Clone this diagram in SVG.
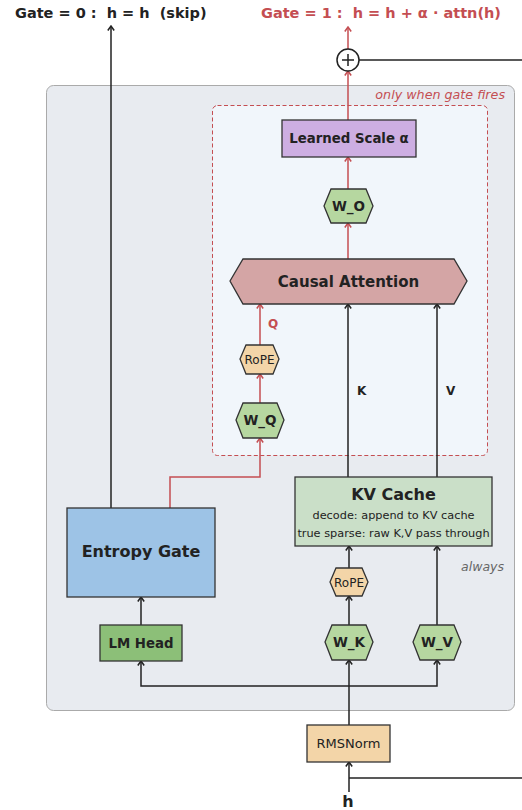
<svg xmlns="http://www.w3.org/2000/svg" width="522" height="810" viewBox="0 0 522 810">
<defs>
<style>
text{font-family:"DejaVu Sans","Noto Sans",sans-serif;fill:#222}
.b{font-weight:bold}
.red{fill:#c44e52}
.node{stroke:#333;stroke-width:1.3}
.ln{fill:none;stroke:#222;stroke-width:1.5}
.rl{fill:none;stroke:#c44e52;stroke-width:1.5}
</style>
<marker id="ab" viewBox="0 0 10 10" refX="9" refY="5" markerWidth="10" markerHeight="10" markerUnits="userSpaceOnUse" orient="auto-start-reverse">
<path d="M4.5,1.8 L9,5 L4.5,8.2" fill="none" stroke="#222" stroke-width="1.5"/>
</marker>
<marker id="ar" viewBox="0 0 10 10" refX="9" refY="5" markerWidth="10" markerHeight="10" markerUnits="userSpaceOnUse" orient="auto-start-reverse">
<path d="M4.5,1.8 L9,5 L4.5,8.2" fill="none" stroke="#c44e52" stroke-width="1.5"/>
</marker>
</defs>
<rect width="522" height="810" fill="#fff"/>

<g id="panel">
<rect x="46.5" y="85.5" width="468" height="625" rx="7" fill="#e8ebf0" stroke="#aaa" stroke-width="1"/>
<rect x="212.5" y="105.5" width="275" height="350" rx="5" fill="#f1f6fb" stroke="#c44e52" stroke-width="1" stroke-dasharray="4,2.5"/>
<text x="505" y="99" font-size="12.7" font-style="italic" text-anchor="end" class="red">only when gate fires</text>
<text x="504" y="571" font-size="12.5" font-style="italic" text-anchor="end" style="fill:#666">always</text>
</g>

<g id="titles">
<text x="15" y="18" font-size="14.5" class="b" xml:space="preserve">Gate = 0 :  h = h  (skip)</text>
<text x="261" y="18" font-size="14.5" class="b red" xml:space="preserve">Gate = 1 :  h = h + α · attn(h)</text>
</g>

<g id="connectors">
<line x1="111" y1="508" x2="111" y2="26" class="ln" marker-end="url(#ab)"/>
<line x1="348" y1="49" x2="348" y2="27" class="rl" marker-end="url(#ar)"/>
<line x1="359" y1="60" x2="522" y2="60" class="ln"/>
<line x1="348" y1="120" x2="348" y2="71" class="rl" marker-end="url(#ar)"/>
<line x1="348" y1="189" x2="348" y2="157" class="rl" marker-end="url(#ar)"/>
<line x1="348" y1="259" x2="348" y2="223" class="rl" marker-end="url(#ar)"/>
<line x1="260" y1="345" x2="260" y2="304" class="rl" marker-end="url(#ar)"/>
<line x1="260" y1="403" x2="260" y2="374" class="rl" marker-end="url(#ar)"/>
<polyline points="170,508 170,477 260,477 260,438" class="rl" marker-end="url(#ar)"/>
<line x1="348" y1="477" x2="348" y2="304" class="ln" marker-end="url(#ab)"/>
<line x1="437" y1="477" x2="437" y2="304" class="ln" marker-end="url(#ab)"/>
<line x1="349" y1="568" x2="349" y2="546" class="ln" marker-end="url(#ab)"/>
<line x1="349" y1="625" x2="349" y2="596" class="ln" marker-end="url(#ab)"/>
<line x1="437" y1="625" x2="437" y2="546" class="ln" marker-end="url(#ab)"/>
<line x1="141" y1="625" x2="141" y2="597" class="ln" marker-end="url(#ab)"/>
<polyline points="141,661 141,686 437,686 437,660" class="ln" marker-start="url(#ab)" marker-end="url(#ab)"/>
<line x1="349" y1="725" x2="349" y2="660" class="ln" marker-end="url(#ab)"/>
<line x1="349" y1="792" x2="349" y2="762" class="ln" marker-end="url(#ab)"/>
<line x1="349" y1="778" x2="522" y2="778" class="ln"/>
<text x="268" y="328" font-size="12" class="b red">Q</text>
<text x="357" y="395" font-size="12" class="b">K</text>
<text x="446" y="395" font-size="12" class="b">V</text>
</g>

<g id="plus">
<circle cx="348" cy="60" r="11" fill="#fff" stroke="#222" stroke-width="1.5"/>
<path d="M342,60 H354 M348,54 V66" stroke="#222" stroke-width="1.5"/>
</g>

<g id="learned-scale">
<rect x="282" y="120" width="134" height="37" fill="#cdaee2" class="node"/>
<text x="349" y="143" font-size="13.3" class="b" text-anchor="middle">Learned Scale α</text>
</g>

<g id="w-o">
<polygon points="324,206 331,189 366,189 373,206 366,223 331,223" fill="#b6d7a0" class="node"/>
<text x="348.5" y="211" font-size="13.5" class="b" text-anchor="middle">W_O</text>
</g>

<g id="causal-attention">
<polygon points="230,281 243,259 454,259 467,281 454,304 243,304" fill="#d4a5a5" class="node"/>
<text x="348.5" y="287" font-size="15" class="b" text-anchor="middle">Causal Attention</text>
</g>

<g id="rope-q">
<polygon points="240,359 246,345 273,345 279,359 273,374 246,374" fill="#f3d5a8" class="node"/>
<text x="259.5" y="363.5" font-size="12" text-anchor="middle">RoPE</text>
</g>

<g id="w-q">
<polygon points="236,420 243,403 277,403 284,420 277,438 243,438" fill="#b6d7a0" class="node"/>
<text x="260" y="425" font-size="13.5" class="b" text-anchor="middle">W_Q</text>
</g>

<g id="kv-cache">
<rect x="295" y="477" width="197" height="69" fill="#cadfc8" class="node"/>
<text x="393.5" y="500" font-size="16" class="b" text-anchor="middle">KV Cache</text>
<text x="393.5" y="519" font-size="11.3" text-anchor="middle">decode: append to KV cache</text>
<text x="393.5" y="537" font-size="11.3" text-anchor="middle">true sparse: raw K,V pass through</text>
</g>

<g id="entropy-gate">
<rect x="67" y="508" width="148" height="89" fill="#9dc3e6" class="node"/>
<text x="141" y="557" font-size="16" class="b" text-anchor="middle">Entropy Gate</text>
</g>

<g id="rope-k">
<polygon points="330,582 336,568 362,568 368,582 362,596 336,596" fill="#f3d5a8" class="node"/>
<text x="349" y="586.5" font-size="12" text-anchor="middle">RoPE</text>
</g>

<g id="lm-head">
<rect x="100" y="625" width="82" height="36" fill="#8cbf78" class="node"/>
<text x="141" y="647.5" font-size="13.3" class="b" text-anchor="middle">LM Head</text>
</g>

<g id="w-k">
<polygon points="325,642 332,625 366,625 373,642 366,660 332,660" fill="#b6d7a0" class="node"/>
<text x="349" y="647" font-size="13.5" class="b" text-anchor="middle">W_K</text>
</g>

<g id="w-v">
<polygon points="413,642 420,625 454,625 461,642 454,660 420,660" fill="#b6d7a0" class="node"/>
<text x="437" y="647" font-size="13.5" class="b" text-anchor="middle">W_V</text>
</g>

<g id="rmsnorm">
<rect x="307" y="725" width="83" height="37" fill="#f3d5a8" class="node"/>
<text x="348.5" y="748" font-size="13" text-anchor="middle">RMSNorm</text>
</g>

<g id="h-input">
<text x="348" y="807" font-size="16" class="b" text-anchor="middle">h</text>
</g>
</svg>
